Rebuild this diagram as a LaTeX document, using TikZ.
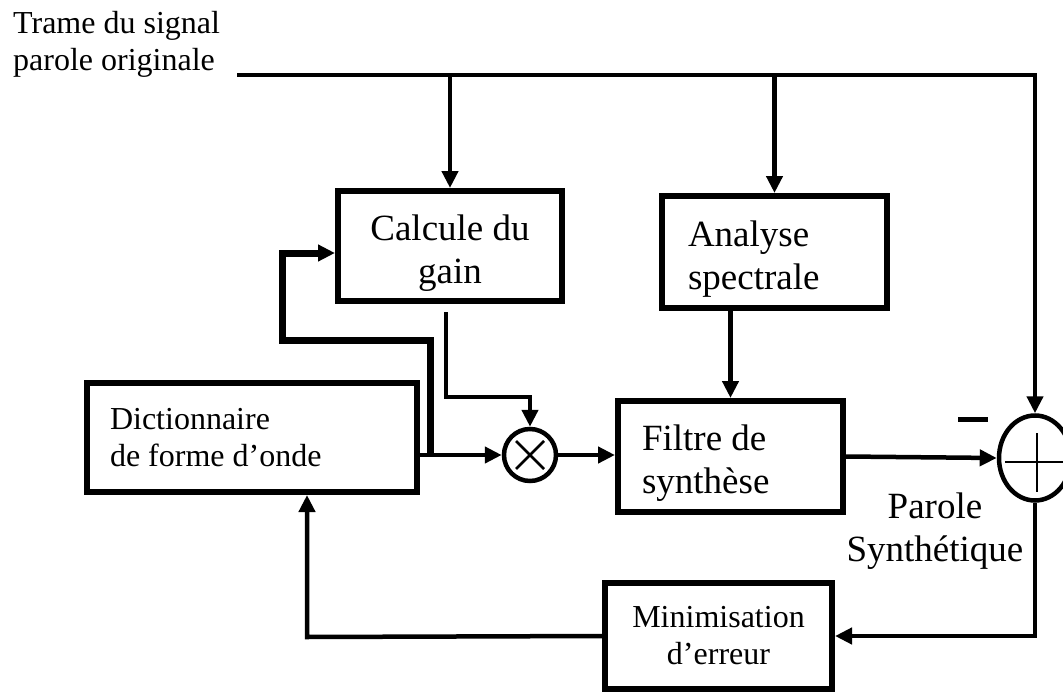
\documentclass[tikz,border=0pt]{standalone}
\usepackage{fontspec}
\setmainfont{Liberation Serif}
\usetikzlibrary{arrows.meta,shapes.geometric}

\tikzset{
  blk/.style={draw, line width=6pt, inner ysep=0pt},
  wire/.style={line width=4.5pt},
  arr/.style={wire, -{Triangle[length=17pt,width=16pt]}},
  thickwire/.style={line width=7pt, -{Triangle[length=17pt,width=16pt]}},
  bigtxt/.style={font=\fontsize{37}{43}\selectfont},
  smalltxt/.style={font=\fontsize{32}{37}\selectfont},
  lowered/.style={execute at begin node={\rule{0pt}{39pt}}},
  opcircle/.style={draw, line width=4.5pt, inner sep=0pt},
  glyph/.style={line width=2.5pt},
}

\begin{document}
\begin{tikzpicture}[x=1pt,y=-1pt]
\useasboundingbox (0,0) rectangle (1063,693);
\clip (0,0) rectangle (1063,693);

% input label
\node[smalltxt, align=left, anchor=west, inner sep=0pt] (title) at (13,44)
  {Trame du signal\\parole originale};

% processing blocks
\node[blk, bigtxt, lowered, minimum width=224pt, minimum height=110pt,
      text width=200pt, inner xsep=12pt, align=flush center] (calc) at (450,246)
  {Calcule du\\gain};
\node[blk, bigtxt, lowered, minimum width=225pt, minimum height=112pt,
      text width=173pt, inner xsep=26pt, align=flush left] (spec) at (774.5,252)
  {Analyse\\spectrale};
\node[blk, bigtxt, lowered, minimum width=225pt, minimum height=111pt,
      text width=177pt, inner xsep=24pt, align=flush left] (filt) at (730.5,456.5)
  {Filtre de\\synthèse};
\node[blk, smalltxt, minimum width=330pt, minimum height=109pt,
      text width=284pt, inner xsep=23pt, align=flush left] (dict) at (252,437.5)
  {Dictionnaire\\de forme d’onde};
\node[blk, smalltxt, minimum width=227pt, minimum height=106pt,
      text width=207pt, inner xsep=10pt, align=flush center] (mini) at (718.5,636)
  {Minimisation\\d’erreur};

% multiplier and summing junction
\node[opcircle, circle, minimum size=52pt] (mult) at (530,455) {};
\draw[glyph] ([shift={(-14,-14)}]mult.center) -- ([shift={(14,14)}]mult.center);
\draw[glyph] ([shift={(-14,14)}]mult.center) -- ([shift={(14,-14)}]mult.center);

\node[opcircle, ellipse, minimum width=72pt, minimum height=85pt] (sum) at (1035,458) {};
\draw[line width=2pt] ([shift={(-30,4)}]sum.center) -- ([shift={(40,4)}]sum.center);
\draw[line width=2pt] ([shift={(2,-25)}]sum.center) -- ([shift={(2,34)}]sum.center);
\draw[line width=5pt] (958,419) -- (988,419);

\node[bigtxt, align=center, inner sep=0pt] (synth) at (935,531)
  {Parole\\Synthétique};

% original speech distribution line
\coordinate (src) at (237,75);
\draw[arr] (src) -- (sum.north |- src) -- (sum.north);
\draw[arr] (calc.north |- src) -- (calc.north);
\draw[arr] (spec.north |- src) -- (spec.north);

% excitation path
\draw[arr] (dict.east |- mult) -- (mult.west);
\coordinate (tap) at (430,455);
\coordinate (lp1) at (430,340);
\coordinate (lp2) at (282,340);
\coordinate (lp3) at (282,253);
\draw[thickwire] (tap) -- (lp1) -- (lp2) -- (lp3) -- (calc.west |- lp3);
\draw[arr] ([xshift=-4pt,yshift=-8pt]calc.south) |- ([yshift=30pt]mult.north) -- (mult.north);
\draw[arr] (mult.east) -- (mult.east -| filt.west);
\draw[arr] (filt.north |- spec.south) -- (filt.north);
\draw[arr] (filt.east) -- (sum.west);

% error feedback
\draw[arr] (sum.south) |- (mini.east);
\coordinate (fb) at (307,637);
\draw[arr] (mini.west) -- (fb) -- (fb |- dict.south);
\end{tikzpicture}
\end{document}
